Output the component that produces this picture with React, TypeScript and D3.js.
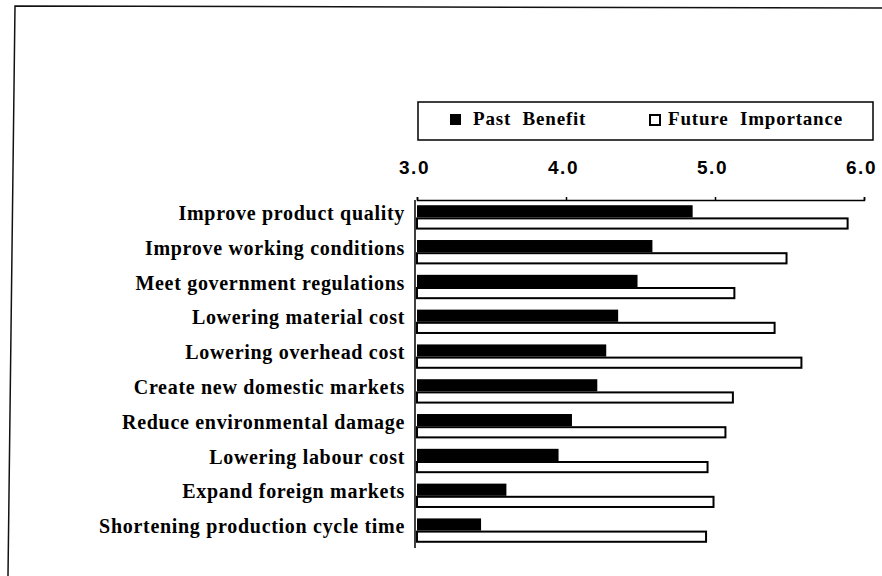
import React, { useEffect, useRef } from "react";
import * as d3 from "d3";

const categories = [
  "Improve product quality",
  "Improve working conditions",
  "Meet government regulations",
  "Lowering material cost",
  "Lowering overhead cost",
  "Create new domestic markets",
  "Reduce environmental damage",
  "Lowering labour cost",
  "Expand foreign markets",
  "Shortening production cycle time",
];
const pastBenefit = [4.85, 4.58, 4.48, 4.35, 4.27, 4.21, 4.04, 3.95, 3.6, 3.43];
const futureImportance = [5.89, 5.48, 5.13, 5.4, 5.58, 5.12, 5.07, 4.95, 4.99, 4.94];
const tickValues = [3, 4, 5, 6];
const seriesNames = ["Past Benefit", "Future Importance"];

export default function App() {
  const ref = useRef<SVGSVGElement>(null);

  useEffect(() => {
    const svg = d3.select(ref.current);
    svg.selectAll("*").remove();
    const W = 882, H = 576;
    svg.append("rect").attr("width", W).attr("height", H).attr("fill", "#fff");

    // frame
    svg.append("path").attr("d", "M8,576 L15,6 L882,8").attr("fill", "none").attr("stroke", "#111").attr("stroke-width", 1.5);

    const x = d3.scaleLinear().domain([3, 6]).range([417, 864]);
    const y = d3.scaleBand<string>().domain(categories).range([200, 548]).paddingInner(0.3).paddingOuter(0.15);
    const inner = d3.scaleBand<string>().domain(seriesNames).range([0, y.bandwidth()]);

    // axis
    const axis = d3.axisTop(x).tickValues(tickValues).tickFormat(d3.format(".1f")).tickSize(3).tickPadding(23);
    const ag = svg.append("g").attr("transform", "translate(0,200)").call(axis);
    ag.select(".domain").attr("stroke", "#000").attr("stroke-width", 1.5);
    ag.selectAll(".tick line").attr("stroke", "#000").attr("stroke-width", 1.5);
    ag.selectAll(".tick text")
      .attr("font-family", "'Liberation Sans', Arial, sans-serif")
      .attr("font-weight", "bold")
      .attr("font-size", 19)
      .attr("letter-spacing", 1.5)
      .attr("dx", -3)
      .attr("fill", "#000");

    // vertical axis line
    svg.append("line").attr("x1", 415).attr("x2", 415).attr("y1", 200).attr("y2", 548).attr("stroke", "#000").attr("stroke-width", 1.5);

    const g = svg.append("g");
    categories.forEach((c, i) => {
      const y0 = y(c)!;
      g.append("rect")
        .attr("x", x(3)).attr("y", y0 + inner(seriesNames[0])!)
        .attr("width", x(pastBenefit[i]) - x(3)).attr("height", inner.bandwidth())
        .attr("fill", "#000");
      g.append("rect")
        .attr("x", x(3)).attr("y", y0 + inner(seriesNames[1])! + 1)
        .attr("width", x(futureImportance[i]) - x(3)).attr("height", inner.bandwidth() - 2)
        .attr("fill", "#fff").attr("stroke", "#000").attr("stroke-width", 2);
      g.append("text")
        .attr("x", 405).attr("y", y0 + y.bandwidth() / 2 - 2)
        .attr("text-anchor", "end").attr("dominant-baseline", "middle")
        .attr("font-family", "'Liberation Serif', 'Times New Roman', serif")
        .attr("font-weight", "bold").attr("font-size", 20)
        .attr("letter-spacing", 0.7)
        .attr("fill", "#000")
        .text(c);
    });

    // legend
    const lg = svg.append("g");
    lg.append("rect").attr("x", 418).attr("y", 102).attr("width", 455).attr("height", 38)
      .attr("fill", "#fff").attr("stroke", "#000").attr("stroke-width", 1.5);
    lg.append("rect").attr("x", 450).attr("y", 114).attr("width", 11).attr("height", 11).attr("fill", "#000");
    lg.append("rect").attr("x", 650).attr("y", 115).attr("width", 10).attr("height", 10).attr("fill", "#fff").attr("stroke", "#000").attr("stroke-width", 2);
    const legX = [473, 668];
    seriesNames.forEach((n, i) => {
      lg.append("text").attr("x", legX[i]).attr("y", 121)
        .attr("dominant-baseline", "middle")
        .attr("font-family", "'Liberation Serif', 'Times New Roman', serif")
        .attr("font-weight", "bold").attr("font-size", 19)
        .attr("letter-spacing", 0.8)
        .attr("word-spacing", 6)
        .attr("fill", "#000").text(n);
    });
  }, []);

  return <svg ref={ref} width={882} height={576} style={{ position: "absolute", left: 0, top: 0 }} />;
}
